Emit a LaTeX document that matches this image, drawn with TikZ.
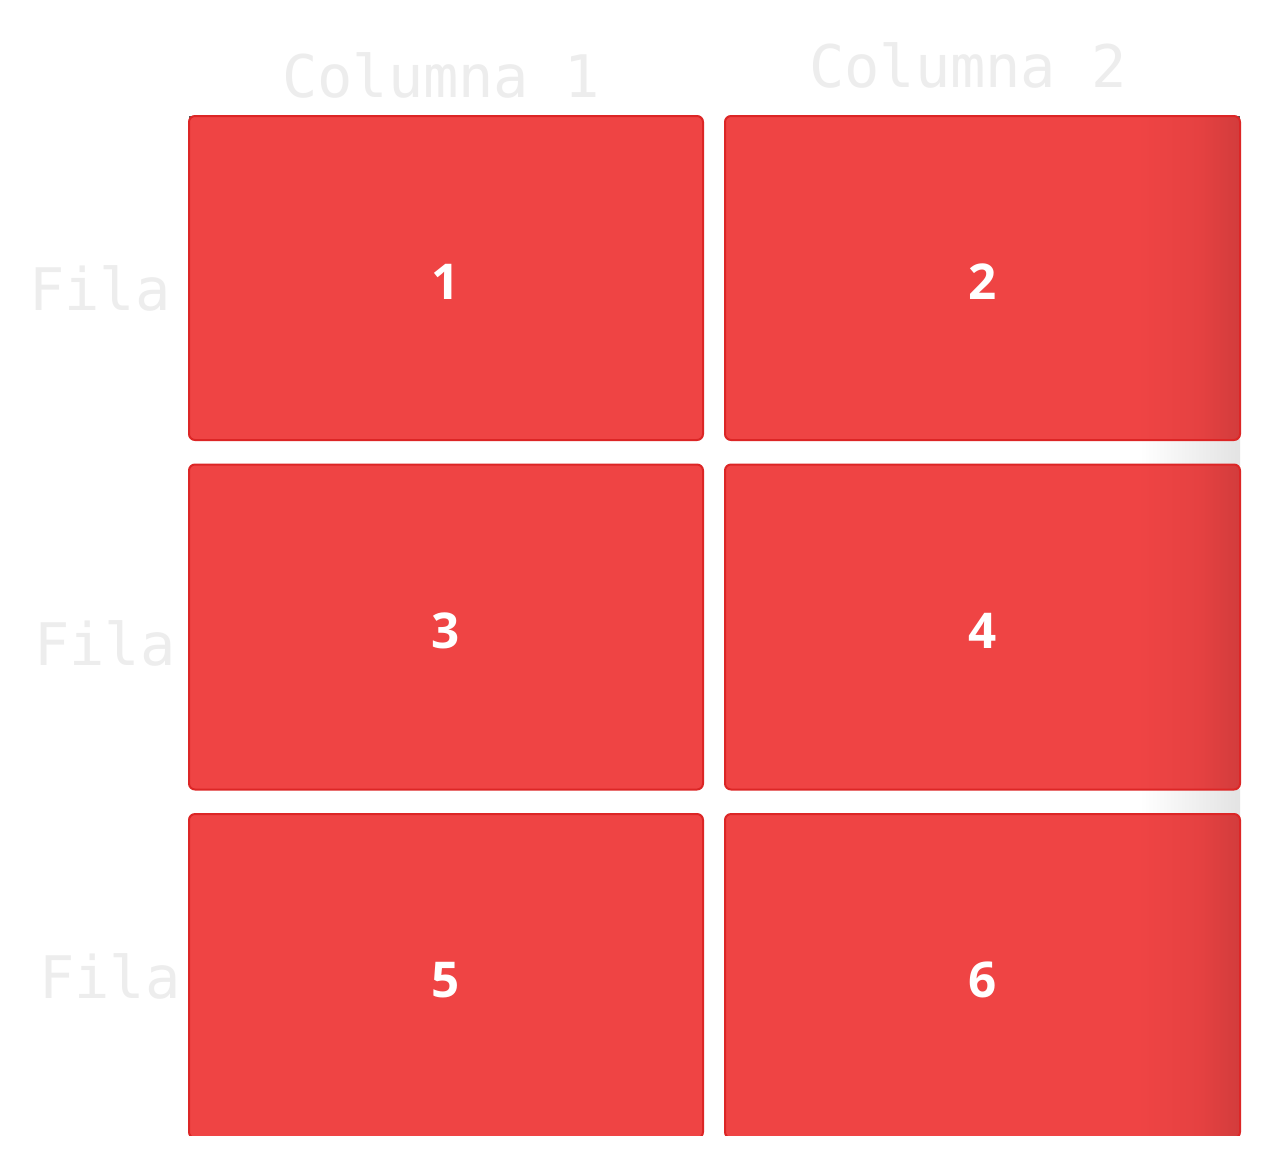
\documentclass[tikz,border=0pt]{standalone}
\usepackage{fontspec}
\newfontfamily\monof{DejaVu Sans Mono}
\newfontfamily\numf{Open Sans}
\definecolor{cellred}{HTML}{EF4444}
\definecolor{cellborder}{HTML}{DC2626}
\definecolor{labelgray}{HTML}{EDEDED}
\colorlet{cellmid}{cellred!96!black}
\colorlet{celldark}{cellred!88!black}
\pgfdeclarehorizontalshading{edgeshade}{100bp}{color(0bp)=(cellred); color(25bp)=(cellred); color(65bp)=(cellred); color(71bp)=(cellmid); color(75bp)=(celldark); color(100bp)=(celldark)}
\tikzset{
  cellbox/.style={draw=cellborder, line width=1.5pt, rounded corners=4.5pt, fill=cellred,
    minimum height=324*0.75pt, inner sep=0pt, text=white,
    font=\numf\bfseries\fontsize{37}{37}\selectfont, text height=31.5pt, text depth=0pt},
  leftcell/.style={cellbox, minimum width=514*0.75pt},
  rightcell/.style={cellbox, minimum width=515*0.75pt, shade, shading=edgeshade},
  headlabel/.style={anchor=base, text=labelgray, inner sep=0pt, font=\monof\fontsize{44}{44}\selectfont},
  gapshade/.style={left color=white, right color=black!11, draw=none}
}
\begin{document}
\begin{tikzpicture}[x=0.75pt, y=-0.75pt]
\useasboundingbox (0,0) rectangle (1269,1165);
\fill[white] (0,0) rectangle (1269,1165);
% headers
\node[headlabel] (c1) at (441,97) {Columna 1};
\node[headlabel] (c2) at (968,87) {Columna 2};
\node[headlabel] (f1) at (100,310) {Fila};
\node[headlabel] (f2) at (105,665) {Fila};
\node[headlabel] (f3) at (110,998) {Fila};
% right-edge shading in gaps
\shade[gapshade] (1140,439) rectangle (1240,465);
\shade[gapshade] (1140,789) rectangle (1240,815);
% corner artifacts
\fill[black!65] (189,116) rectangle (194,121);
\fill[black!65] (1235,116) rectangle (1240,121);
\begin{scope}
\clip (0,0) rectangle (1269,1135);
\node[leftcell] (b1) at (446,278) {1};
\node[rightcell] (b2) at (982.5,278) {2};
\node[leftcell, minimum height=325*0.75pt] (b3) at (446,627) {3};
\node[rightcell, minimum height=325*0.75pt] (b4) at (982.5,627) {4};
\node[leftcell] (b5) at (446,976) {5};
\node[rightcell] (b6) at (982.5,976) {6};
\end{scope}
\end{tikzpicture}
\end{document}
